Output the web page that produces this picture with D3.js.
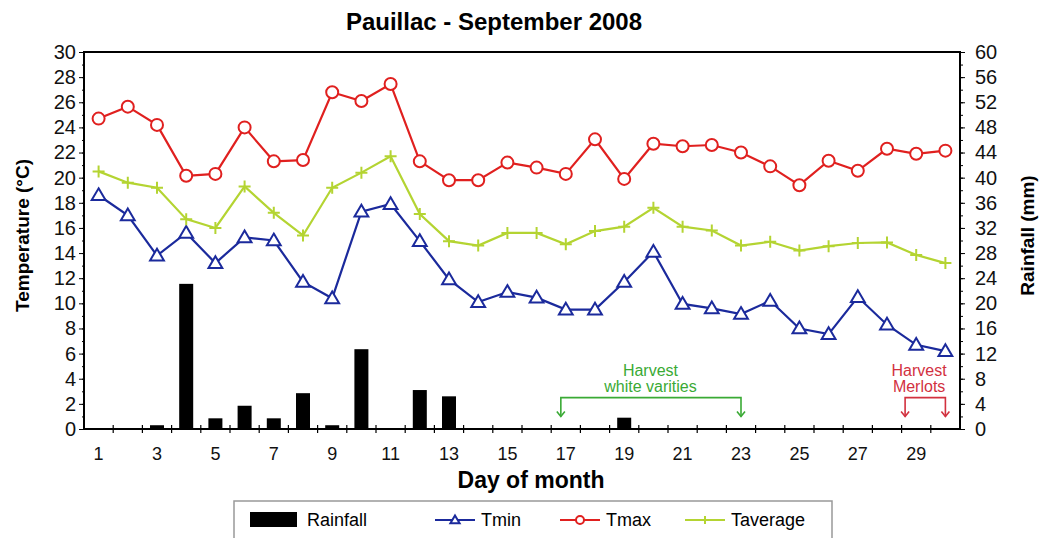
<!doctype html>
<html>
<head>
<meta charset="utf-8">
<script src="https://cdn.jsdelivr.net/npm/d3@7"></script>
<style>
  body { margin: 0; background: #fff; }
  svg { display: block; font-family: Arial, "Liberation Sans", sans-serif; }
</style>
</head>
<body>
<script>
// Data
const days = d3.range(1, 31);
const tmax = [24.7, 25.65, 24.2, 20.15, 20.3, 24.0, 21.3, 21.4, 26.8, 26.1,
              27.45, 21.3, 19.8, 19.8, 21.2, 20.8, 20.3, 23.05, 19.9, 22.7,
              22.5, 22.6, 22.0, 20.9, 19.4, 21.35, 20.55, 22.3, 21.9, 22.15];
const tavg = [20.5, 19.6, 19.2, 16.7, 16.0, 19.3, 17.2, 15.4, 19.2, 20.4,
              21.7, 17.1, 14.95, 14.6, 15.6, 15.6, 14.7, 15.75, 16.1, 17.6,
              16.1, 15.8, 14.6, 14.9, 14.2, 14.55, 14.8, 14.85, 13.85, 13.2];
const tmin = [18.6, 17.0, 13.8, 15.6, 13.2, 15.25, 15.0, 11.7, 10.4, 17.3,
              17.9, 14.95, 11.9, 10.1, 10.9, 10.45, 9.5, 9.5, 11.7, 14.1,
              9.95, 9.6, 9.15, 10.2, 8.0, 7.55, 10.5, 8.3, 6.7, 6.2];
const rainDays = [3, 4, 5, 6, 7, 8, 9, 10, 12, 13, 19];
const rainMm   = [0.6, 23.1, 1.7, 3.7, 1.7, 5.7, 0.6, 12.7, 6.2, 5.2, 1.8];
const tempTicks = d3.range(0, 31, 2);
const rainTicks = d3.range(0, 61, 4);
const dayLabels = d3.range(1, 30, 2);
// harvest annotations: from day, to day, label lines, colour
const harvests = [
  {from: 16.83, to: 23, labelAt: 19.9, lines: ["Harvest", "white varities"], color: "#3aaa35"},
  {from: 28.62, to: 30, labelAt: 29.1, lines: ["Harvest", "Merlots"], color: "#d2313f"}
];

const width = 1039, height = 538;
const marginTop = 52, marginRight = 79, marginBottom = 109, marginLeft = 84;
const x0 = marginLeft, x1 = width - marginRight, y0 = height - marginBottom;

const x = d3.scaleBand(days, [x0, x1]);
const xc = d => x(d) + x.bandwidth() / 2;
const xl = d3.scaleLinear([1, 30], [xc(1), xc(30)]);
const yT = d3.scaleLinear([0, 30], [y0, marginTop]);
const yR = d3.scaleLinear([0, 60], [y0, marginTop]);

const svg = d3.select("body").append("svg")
    .attr("width", width)
    .attr("height", height)
    .attr("viewBox", [0, 0, width, height]);

// Title
svg.append("text")
    .attr("x", 494).attr("y", 30)
    .attr("text-anchor", "middle")
    .attr("font-size", 24).attr("font-weight", "bold")
    .text("Pauillac - September 2008");

// Rainfall bars
svg.append("g")
  .selectAll("rect")
  .data(rainDays.map((d, i) => ({day: d, mm: rainMm[i]})))
  .join("rect")
    .attr("x", d => xc(d.day) - 7)
    .attr("width", 14)
    .attr("y", d => yR(d.mm))
    .attr("height", d => y0 - yR(d.mm))
    .attr("fill", "#000");

// Left axis
svg.append("g")
    .attr("transform", `translate(${x0},0)`)
    .call(d3.axisLeft(yT).tickValues(d3.range(0, 31, 1)).tickSize(2).tickFormat(""))
    .call(g => g.select(".domain").remove());
svg.append("g")
    .attr("transform", `translate(${x0},0)`)
    .call(d3.axisLeft(yT).tickValues(tempTicks).tickSize(5).tickPadding(3))
    .call(g => g.select(".domain").remove())
    .call(g => g.selectAll("text").attr("font-size", 20).attr("fill", "#111"));

// Right axis
svg.append("g")
    .attr("transform", `translate(${x1},0)`)
    .call(d3.axisRight(yR).tickValues(d3.range(0, 61, 2)).tickSize(3).tickFormat(""))
    .call(g => g.select(".domain").remove());
svg.append("g")
    .attr("transform", `translate(${x1},0)`)
    .call(d3.axisRight(yR).tickValues(rainTicks).tickSize(5).tickPadding(10))
    .call(g => g.select(".domain").remove())
    .call(g => g.selectAll("text").attr("font-size", 20).attr("fill", "#111"));

// Frame
svg.append("rect")
    .attr("x", x0).attr("y", marginTop)
    .attr("width", x1 - x0).attr("height", y0 - marginTop)
    .attr("fill", "none").attr("stroke", "#000").attr("stroke-width", 2);

// Bottom axis: boundary ticks and odd-day labels
svg.append("g")
  .selectAll("line")
  .data(days.slice(1))
  .join("line")
    .attr("x1", d => x(d)).attr("x2", d => x(d))
    .attr("y1", y0 - 4).attr("y2", y0 + 4)
    .attr("stroke", "#000").attr("stroke-width", 1.2);
svg.append("g")
    .attr("transform", `translate(0,${y0})`)
    .call(d3.axisBottom(x).tickValues(dayLabels).tickSize(0).tickPadding(18))
    .call(g => g.select(".domain").remove())
    .call(g => g.selectAll("text").attr("font-size", 18).attr("fill", "#111"));

// Axis titles
svg.append("text")
    .attr("x", 531).attr("y", 488)
    .attr("text-anchor", "middle")
    .attr("font-size", 23).attr("font-weight", "bold")
    .text("Day of month");
svg.append("text")
    .attr("transform", `translate(29,${(marginTop + y0) / 2 - 5}) rotate(-90)`)
    .attr("text-anchor", "middle")
    .attr("font-size", 19).attr("font-weight", "bold")
    .text("Temperature (°C)");
svg.append("text")
    .attr("transform", `translate(1034,${(marginTop + y0) / 2 - 5}) rotate(-90)`)
    .attr("text-anchor", "middle")
    .attr("font-size", 19).attr("font-weight", "bold")
    .text("Rainfall (mm)");

// Temperature series
const line = d3.line().x((d, i) => xc(days[i])).y(d => yT(d));
const series = [
  {name: "Tmin", values: tmin, color: "#1b2a9c", marker: "triangle"},
  {name: "Tmax", values: tmax, color: "#e0201f", marker: "circle"},
  {name: "Taverage", values: tavg, color: "#b4d432", marker: "plus"}
];

function marker(g, type, color, size) {
  if (type === "circle") {
    g.append("circle").attr("r", size)
        .attr("fill", "#fff").attr("stroke", color).attr("stroke-width", 2);
  } else if (type === "triangle") {
    const s = size * 1.15;
    g.append("path")
        .attr("d", `M0,${-s}L${s},${s * 0.7}L${-s},${s * 0.7}Z`)
        .attr("fill", "#fff").attr("stroke", color).attr("stroke-width", 2);
  } else {
    g.append("path")
        .attr("d", `M${-size},0H${size}M0,${-size}V${size}`)
        .attr("stroke", color).attr("stroke-width", 2);
  }
}

for (const s of series) {
  svg.append("path")
      .attr("d", line(s.values))
      .attr("fill", "none")
      .attr("stroke", s.color)
      .attr("stroke-width", 2.2);
  svg.append("g")
    .selectAll("g")
    .data(s.values)
    .join("g")
      .attr("transform", (d, i) => `translate(${xc(days[i])},${yT(d)})`)
      .each(function() { marker(d3.select(this), s.marker, s.color, 6); });
}

// Harvest annotations
for (const h of harvests) {
  const g = svg.append("g").attr("stroke", h.color).attr("fill", "none").attr("stroke-width", 1.6);
  const yb = yR(5), ya = yR(2);
  const xa = xl(h.from), xb = xl(h.to);
  g.append("path").attr("d", `M${xa},${ya}V${yb}H${xb}V${ya}`);
  for (const xx of [xa, xb]) {
    g.append("path").attr("d", `M${xx - 4},${ya - 5}L${xx},${ya}L${xx + 4},${ya - 5}`);
  }
  h.lines.forEach((t, i) => {
    svg.append("text")
        .attr("x", xl(h.labelAt))
        .attr("y", yb - 22 + i * 16)
        .attr("text-anchor", "middle")
        .attr("font-size", 16)
        .attr("fill", h.color)
        .text(t);
  });
}

// Legend
const lg = svg.append("g");
lg.append("rect")
    .attr("x", 234).attr("y", 501)
    .attr("width", 598).attr("height", 50)
    .attr("fill", "#fff").attr("stroke", "#999").attr("stroke-width", 1.5);
lg.append("rect")
    .attr("x", 250).attr("y", 512).attr("width", 47).attr("height", 15).attr("fill", "#000");
lg.append("text").attr("x", 307).attr("y", 526).attr("font-size", 18).text("Rainfall");
const legendItems = [
  {s: series[0], x: 435},
  {s: series[1], x: 560},
  {s: series[2], x: 685}
];
for (const it of legendItems) {
  lg.append("line")
      .attr("x1", it.x).attr("x2", it.x + 40)
      .attr("y1", 520).attr("y2", 520)
      .attr("stroke", it.s.color).attr("stroke-width", 2);
  marker(lg.append("g").attr("transform", `translate(${it.x + 20},520)`), it.s.marker, it.s.color, 4);
  lg.append("text").attr("x", it.x + 46).attr("y", 526).attr("font-size", 18).text(it.s.name);
}
</script>
</body>
</html>
